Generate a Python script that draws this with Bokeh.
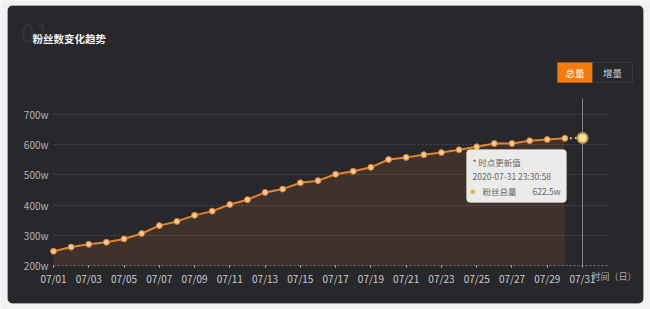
from bokeh.plotting import figure
from bokeh.models import Range1d, FixedTicker, PrintfTickFormatter, BoxAnnotation, Label
from bokeh.embed import file_html
from bokeh.resources import INLINE

# ---- data ----
days = list(range(1, 32))
fans = [247, 261, 270, 277, 288, 306, 332, 346, 366, 380, 402, 418, 442, 453, 474, 481,
        502, 512, 525, 551, 558, 567, 574, 583, 593, 604, 604, 613, 617, 621, 622.5]
tick_days = [1, 3, 5, 7, 9, 11, 13, 15, 17, 19, 21, 23, 25, 27, 29, 31]
tick_labels = ["07/01", "07/03", "07/05", "07/07", "07/09", "07/11", "07/13", "07/15",
               "07/17", "07/19", "07/21", "07/23", "07/25", "07/27", "07/29", "07/31"]
y_ticks = [200, 300, 400, 500, 600, 700]
title_text = "粉丝数变化趋势"
buttons = ["总量", "增量"]
axis_name = "时间（日）"
tip_head = "* 时点更新值"
tip_time = "2020-07-31 23:30:58"
tip_series = "粉丝总量"
tip_value = "622.5w"

DARK = "#27272c"
OUTER = "#f2f2f4"
ORANGE = "#e5832c"
FONT = "Noto Sans CJK SC"

# chart area geometry (plot spans whole canvas; axes fixed inside)
X_END = 32.48          # right end of grid / axis line
Y_BASE = 200
CROSS_TOP = 753
PX_X = 529 / 30.0
PX_Y = 151 / 500.0
x_range = Range1d(1 - 53 / PX_X, 1 + 597 / PX_X)
y_range = Range1d(Y_BASE - 44 / PX_Y, Y_BASE + 265 / PX_Y)

p = figure(width=650, height=309, x_range=x_range, y_range=y_range,
           output_backend="svg", toolbar_location=None,
           min_border_left=0, min_border_right=0, min_border_top=0, min_border_bottom=0,
           background_fill_color=OUTER, border_fill_color=OUTER)
p.outline_line_color = None

# card
p.add_layout(BoxAnnotation(left=7, right=643, top=5, bottom=303, left_units="canvas",
                           right_units="canvas", top_units="canvas", bottom_units="canvas",
                           fill_color=DARK, fill_alpha=1, line_color="#e2e2e4", line_width=1,
                           border_radius=5, level="image"))

# grid
p.xgrid.visible = False
p.ygrid.ticker = FixedTicker(ticks=y_ticks)
p.ygrid.grid_line_color = "#4c4c52"
p.ygrid.grid_line_dash = "2 2"
p.ygrid.cross_bounds = (1, X_END)

# x axis
xa = p.xaxis[0]
xa.fixed_location = Y_BASE
xa.bounds = (1, X_END)
xa.ticker = FixedTicker(ticks=tick_days)
xa.major_label_overrides = {d: l for d, l in zip(tick_days, tick_labels)}
xa.axis_line_color = "#66666c"
xa.axis_line_dash = "2 2"
xa.major_tick_line_color = "#c0c0c0"
xa.major_tick_in = 0
xa.major_tick_out = 2
xa.minor_tick_line_color = None
xa.major_label_text_color = "#cccccc"
xa.major_label_text_font_size = "10px"
xa.major_label_text_font = FONT
xa.major_label_standoff = 3

# y axis
ya = p.yaxis[0]
ya.fixed_location = 1
ya.ticker = FixedTicker(ticks=y_ticks)
ya.formatter = PrintfTickFormatter(format="%dw")
ya.axis_line_color = None
ya.major_tick_line_color = None
ya.minor_tick_line_color = None
ya.major_tick_out = 0
ya.major_label_standoff = 5
ya.major_label_text_color = "#b4b4b4"
ya.major_label_text_font_size = "10px"
ya.major_label_text_font = FONT

# series
p.varea(x=days[:30], y1=Y_BASE, y2=fans[:30], fill_color=ORANGE, fill_alpha=0.13)
p.line(days[:30], fans[:30], line_color=ORANGE, line_width=2)
p.line(days[29:], fans[29:], line_color="#e6c36a", line_width=2, line_dash="2 3")
p.scatter(days[:30], fans[:30], size=6, fill_color="#f6c895", line_color="#d9782a", line_width=1)

# crosshair + highlighted point
p.segment(x0=[days[-1]], y0=[Y_BASE], x1=[days[-1]], y1=[CROSS_TOP],
          line_color="#85858a", line_width=1)
p.scatter([days[-1]], [fans[-1]], size=10, fill_color="#f6e3a3", line_color="#c99a3c", line_width=2)


def box(l, r, t, b, **kw):
    p.add_layout(BoxAnnotation(left=l, right=r, top=t, bottom=b, left_units="canvas",
                               right_units="canvas", top_units="canvas", bottom_units="canvas",
                               **kw))


def label(x, y, text, size, color, align="left", bold=False):
    p.add_layout(Label(x=x, y=y, x_units="canvas", y_units="canvas", text=text,
                       text_font=FONT, text_font_size=size, text_color=color,
                       text_align=align, text_baseline="middle",
                       text_font_style="bold" if bold else "normal"))


# header
label(20, 33, "01", "26px", "#333339")
label(32, 38, title_text, "10.5px", "#f2f2f2", bold=True)

# buttons
box(557, 592, 62, 82, fill_color="#f57a0c", fill_alpha=1, line_color="#f57a0c")
box(592, 632, 62, 82, fill_color=DARK, fill_alpha=1, line_color="#5c5c60", line_width=1)
label(574.5, 72, buttons[0], "9.5px", "#ffffff", align="center")
label(612, 72, buttons[1], "9.5px", "#d0d0d0", align="center")

# axis name
label(591, 276, axis_name, "9px", "#b0b0b0")

# tooltip
box(466, 566, 149, 202, fill_color="#f3f3f3", fill_alpha=0.96, line_color="#e0e0e0",
    border_radius=4)
label(472, 161, tip_head, "8.5px", "#666666")
label(472, 175, tip_time, "8.5px", "#666666")
label(470, 190, "●", "5px", "#f0b030")
label(482, 190, tip_series, "8.5px", "#666666")
label(560, 190, tip_value, "8.5px", "#666666", align="right")

open("out.html", "w").write(file_html(p, INLINE))
